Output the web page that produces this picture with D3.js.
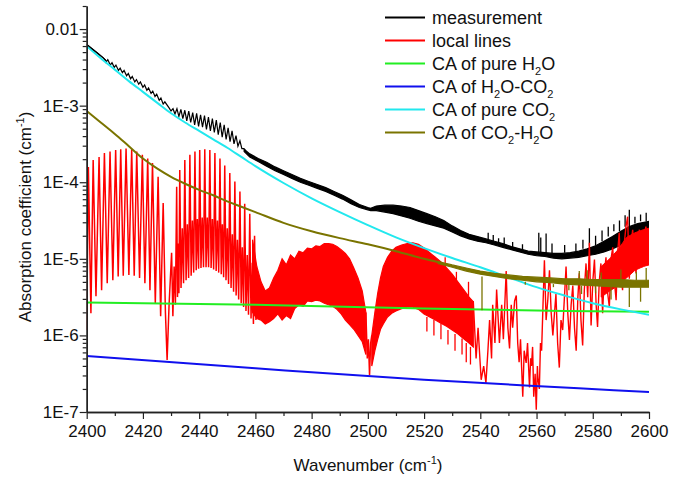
<!DOCTYPE html>
<html><head><meta charset="utf-8">
<script src="https://cdn.jsdelivr.net/npm/d3@7"></script>
<style>body{margin:0;background:#fff}svg{display:block;font-family:"Liberation Sans",Arial,sans-serif}</style>
</head><body><svg id="c" width="696" height="477"></svg>
<script>
// ---- data (values are log10 of absorption coefficient) ----
const xTicks = [2400,2420,2440,2460,2480,2500,2520,2540,2560,2580,2600];
const xMinor = [2410,2430,2450,2470,2490,2510,2530,2550,2570,2590];
const yTicks = [1e-7,1e-6,1e-5,1e-4,1e-3,1e-2];
const yTickLabels = ["1E-7","1E-6","1E-5","1E-4","1E-3","0.01"];

const cyanData = [[2400,-2.22],[2405,-2.38],[2410,-2.53],[2415,-2.68],[2420,-2.82],[2425,-2.96],[2430,-3.10],[2435,-3.22],[2440,-3.33],[2445,-3.44],[2450,-3.55],[2455,-3.67],[2460,-3.79],[2470,-4.01],[2480,-4.21],[2490,-4.39],[2500,-4.56],[2510,-4.72],[2520,-4.86],[2530,-4.99],[2540,-5.11],[2550,-5.24],[2560,-5.37],[2570,-5.48],[2580,-5.58],[2590,-5.66],[2600,-5.73]];
const greenData = [[2400,-5.57],[2460,-5.60],[2520,-5.65],[2570,-5.68],[2600,-5.69]];
const blueData = [[2400,-6.27],[2460,-6.43],[2520,-6.58],[2575,-6.69],[2600,-6.74]];
const oliveData = [[2400,-3.07],[2405,-3.22],[2410,-3.37],[2415,-3.53],[2420,-3.69],[2425,-3.82],[2430,-3.93],[2435,-4.02],[2440,-4.10],[2445,-4.17],[2450,-4.25],[2455,-4.32],[2460,-4.39],[2470,-4.53],[2480,-4.64],[2490,-4.73],[2500,-4.81],[2510,-4.90],[2520,-5.00],[2526,-5.05]];
// noisy part of the CO2-H2O curve: [wavenumber, upper, lower]
const oliveBand = [[2525,-5.035,-5.06],[2530,-5.08,-5.11],[2535,-5.12,-5.16],[2540,-5.16,-5.20],[2545,-5.19,-5.23],[2550,-5.21,-5.26],[2555,-5.23,-5.28],[2560,-5.24,-5.30],[2565,-5.25,-5.31],[2570,-5.26,-5.33],[2575,-5.26,-5.34],[2580,-5.27,-5.35],[2585,-5.27,-5.36],[2590,-5.27,-5.37],[2595,-5.28,-5.37],[2600,-5.28,-5.37]];
const oliveSpikes = [[2540.6,-5.67],[2556,-5.34],[2566,-5.37],[2571.5,-5.41],[2576,-5.46],[2581,-5.45],[2586.5,-5.53],[2593,-5.63],[2597,-5.56],[2575.2,-5.16],[2578,-5.15],[2583,-5.18],[2590,-5.14],[2595.5,-5.17],[2599,-5.12]];

// measurement: start, small-teeth comb, large comb, then noisy band
const blackStart = [[2400,-2.20],[2402,-2.26],[2404,-2.32],[2406,-2.38],[2406.8,-2.41]];
const blackTeethA = [[2407.5,-2.40,-2.43],[2409.0,-2.44,-2.47],[2410.4,-2.47,-2.50],[2411.9,-2.51,-2.54],[2413.3,-2.54,-2.57],[2414.8,-2.58,-2.61],[2416.2,-2.62,-2.65],[2417.7,-2.66,-2.69],[2419.1,-2.69,-2.72],[2420.6,-2.73,-2.76],[2422.0,-2.77,-2.80],[2423.5,-2.81,-2.84],[2424.9,-2.85,-2.88],[2426.4,-2.90,-2.93],[2427.8,-2.95,-2.98]];
const blackTeethB = [[2429.3,-3.03,-3.07],[2430.7,-3.04,-3.11],[2432.1,-3.04,-3.14],[2433.5,-3.05,-3.17],[2434.9,-3.06,-3.20],[2436.3,-3.07,-3.22],[2437.7,-3.09,-3.25],[2439.1,-3.10,-3.27],[2440.5,-3.12,-3.28],[2441.9,-3.13,-3.31],[2443.3,-3.15,-3.33],[2444.7,-3.17,-3.35],[2446.1,-3.19,-3.38],[2447.5,-3.22,-3.41],[2448.9,-3.25,-3.44],[2450.3,-3.29,-3.47],[2451.7,-3.33,-3.50],[2453.1,-3.39,-3.53],[2454.5,-3.46,-3.56],[2455.9,-3.56,-3.59]];
const blackBand = [[2456,-3.57,-3.60],[2458,-3.63,-3.67],[2461,-3.69,-3.73],[2464,-3.74,-3.79],[2467,-3.80,-3.85],[2470,-3.85,-3.90],[2473,-3.90,-3.95],[2476,-3.95,-4.00],[2479,-3.99,-4.04],[2482,-4.03,-4.08],[2485,-4.07,-4.12],[2488,-4.12,-4.17],[2491,-4.17,-4.22],[2494,-4.23,-4.28],[2497,-4.29,-4.33],[2500,-4.33,-4.36],[2501,-4.34,-4.37],[2503,-4.31,-4.37],[2506,-4.30,-4.39],[2509,-4.30,-4.41],[2512,-4.31,-4.44],[2515,-4.33,-4.47],[2518,-4.37,-4.51],[2521,-4.41,-4.54],[2524,-4.45,-4.57],[2527,-4.50,-4.60],[2530,-4.57,-4.65],[2533,-4.63,-4.70],[2536,-4.68,-4.74],[2539,-4.71,-4.77],[2542,-4.74,-4.79],[2545,-4.77,-4.82],[2548,-4.80,-4.85],[2551,-4.84,-4.88],[2554,-4.87,-4.91],[2557,-4.90,-4.94],[2560,-4.91,-4.96],[2563,-4.92,-4.97],[2566,-4.93,-4.99],[2569,-4.93,-5.00],[2572,-4.92,-4.99],[2575,-4.90,-4.98],[2578,-4.87,-4.96],[2581,-4.83,-4.94],[2584,-4.77,-4.91],[2587,-4.71,-4.87],[2590,-4.64,-4.82],[2593,-4.58,-4.76],[2596,-4.54,-4.69],[2600,-4.51,-4.62]];
const blackSpikes = [[2542.8,-4.66],[2544.6,-4.69],[2546.5,-4.73],[2548.5,-4.72],[2551.5,-4.78],[2555,-4.81],[2560.8,-4.66],[2561.5,-4.72],[2563.4,-4.67],[2565.5,-4.80],[2570,-4.82],[2574,-4.80],[2576.5,-4.75],[2578.8,-4.60],[2581,-4.70],[2583.3,-4.63],[2585.5,-4.58],[2587.5,-4.55],[2589.5,-4.50],[2591.5,-4.43],[2593,-4.36],[2595,-4.45],[2597,-4.42],[2599,-4.40]];

// local lines: comb A, dip, comb B
const redCombA = [[2400.0,-5.93],[2400.6,-3.80],[2401.5,-5.71],[2402.3,-3.71],[2403.3,-5.49],[2404.4,-3.67],[2405.3,-5.41],[2406.3,-3.62],[2407.3,-5.32],[2408.3,-3.60],[2409.3,-5.28],[2410.3,-3.58],[2411.2,-5.23],[2412.1,-3.57],[2413.0,-5.22],[2414.0,-3.56],[2415.0,-5.21],[2416.0,-3.57],[2416.9,-5.22],[2417.8,-3.60],[2418.8,-5.25],[2419.8,-3.64],[2420.7,-5.32],[2421.7,-3.69],[2422.5,-5.41],[2423.4,-3.75],[2424.4,-5.58],[2425.4,-3.93],[2426.3,-5.75],[2427.2,-4.27],[2428.0,-5.70],[2428.6,-6.32],[2429.3,-5.60]];
const redCombB = [[2430.2,-4.92],[2430.65,-5.75],[2431.1,-5.10],[2431.55,-5.60],[2432.0,-4.06],[2432.3,-5.50],[2432.55,-4.80],[2432.8,-5.45],[2433.1,-3.84],[2433.55,-5.38],[2434.0,-4.60],[2434.45,-5.32],[2434.9,-3.71],[2435.35,-5.28],[2435.8,-4.55],[2436.25,-5.25],[2436.7,-3.64],[2437.15,-5.22],[2437.6,-4.50],[2438.05,-5.18],[2438.5,-3.60],[2438.95,-5.15],[2439.35,-4.48],[2439.8,-5.13],[2440.2,-3.58],[2440.65,-5.12],[2441.1,-4.46],[2441.55,-5.11],[2442.0,-3.57],[2442.45,-5.11],[2442.9,-4.46],[2443.35,-5.11],[2443.8,-3.58],[2444.25,-5.12],[2444.7,-4.48],[2445.15,-5.14],[2445.6,-3.62],[2446.05,-5.16],[2446.5,-4.50],[2446.95,-5.18],[2447.4,-3.69],[2447.85,-5.20],[2448.25,-4.55],[2448.7,-5.24],[2449.1,-3.78],[2449.55,-5.28],[2450.0,-4.60],[2450.45,-5.33],[2450.9,-3.88],[2451.35,-5.38],[2451.8,-4.68],[2452.25,-5.43],[2452.7,-3.99],[2453.15,-5.48],[2453.6,-4.75],[2454.05,-5.53],[2454.5,-4.12],[2454.95,-5.58],[2455.35,-4.85],[2455.8,-5.63],[2456.2,-4.28],[2456.65,-5.68],[2457.1,-4.95],[2457.55,-5.73],[2458.0,-4.41],[2458.45,-5.78],[2458.9,-5.05],[2459.3,-5.85],[2459.7,-4.70],[2460.2,-5.80]];
// dense bands: [wavenumber, upper, lower]
const redBandC = [[2459,-4.75,-5.70],[2460.5,-5.10,-5.78],[2462,-5.30,-5.80],[2463.5,-5.42,-5.85],[2465,-5.38,-5.82],[2466.5,-5.25,-5.78],[2468,-5.15,-5.72],[2469.5,-5.00,-5.80],[2471,-5.08,-5.74],[2472.5,-4.95,-5.78],[2474,-5.00,-5.65],[2475.5,-4.90,-5.60],[2477,-4.92,-5.62],[2478.5,-4.86,-5.55],[2480,-4.87,-5.56],[2481.5,-4.83,-5.54],[2483,-4.84,-5.55],[2484.5,-4.80,-5.58],[2486,-4.80,-5.60],[2487.5,-4.81,-5.62],[2489,-4.84,-5.66],[2490.5,-4.88,-5.72],[2492,-4.93,-5.80],[2493.5,-5.00,-5.86],[2495,-5.12,-5.92],[2496.5,-5.25,-6.00],[2498,-5.42,-6.08],[2499.3,-5.70,-6.25]];
const redDip = [[2499.3,-5.70],[2499.8,-6.30],[2500.2,-6.05],[2500.6,-6.52],[2501.0,-6.10],[2501.4,-6.00]];
const redBandD = [[2501.4,-6.00,-6.40],[2502.5,-5.70,-6.20],[2503.5,-5.45,-6.05],[2504.5,-5.25,-5.92],[2505.5,-5.10,-5.85],[2507,-4.98,-5.76],[2508.5,-4.90,-5.71],[2510,-4.85,-5.68],[2512,-4.82,-5.65],[2514,-4.80,-5.63],[2516,-4.79,-5.63],[2518,-4.81,-5.66],[2520,-4.86,-5.72],[2522,-4.92,-5.76],[2524,-4.98,-5.80],[2526,-5.04,-5.84],[2528,-5.12,-5.88],[2530,-5.20,-5.93],[2532,-5.30,-5.98],[2534,-5.40,-6.04],[2536,-5.50,-6.10],[2537.5,-5.56,-6.15]];
const redBandDDown = [[2521,-5.95],[2523.5,-6.00],[2526,-6.05],[2528.5,-6.12],[2531,-6.20],[2533.5,-6.25],[2535,-6.35],[2536.5,-6.38]];
const redBandDUp = [[2527.5,-4.98],[2531.5,-5.17],[2535.8,-5.30]];
const redTail = [[2537.5,-5.55],[2538.5,-6.30],[2539.2,-5.90],[2540.3,-6.58],[2541.2,-6.40],[2542.0,-6.62],[2542.7,-6.20],[2543.3,-5.80],[2544.0,-6.30],[2544.4,-5.60],[2545.2,-6.10],[2545.8,-5.40],[2546.8,-6.10],[2547.6,-5.60],[2548.2,-6.05],[2549.2,-5.16],[2549.8,-5.90],[2550.4,-6.17],[2551.0,-5.60],[2551.5,-5.90],[2552.2,-5.55],[2552.8,-5.48],[2553.3,-6.10],[2553.8,-6.35],[2554.3,-6.05],[2555.1,-6.80],[2555.6,-6.20],[2556.3,-6.36],[2556.8,-6.10],[2557.5,-6.68],[2557.9,-6.30],[2558.2,-6.40],[2558.6,-6.15],[2559.0,-6.80],[2559.5,-6.50],[2559.9,-6.97],[2560.3,-6.40],[2560.5,-6.55],[2561.0,-6.70],[2561.4,-6.10],[2561.8,-6.20],[2562.3,-5.60],[2562.8,-5.02],[2563.4,-5.80],[2564.0,-5.54],[2564.6,-5.15],[2565.2,-5.70],[2565.8,-6.00],[2566.4,-5.70],[2566.9,-5.46],[2567.5,-6.10],[2568.1,-6.42],[2568.7,-5.80],[2569.3,-5.93],[2570.5,-5.10],[2571.1,-5.70],[2571.7,-6.06],[2572.3,-5.60],[2572.9,-5.35],[2573.5,-5.90],[2574.1,-6.20],[2574.7,-5.50],[2575.2,-5.19],[2575.8,-5.80],[2576.4,-6.13],[2577.0,-5.40],[2577.6,-5.06],[2578.2,-5.50],[2578.8,-4.79],[2579.4,-5.87],[2580.0,-5.30],[2580.6,-5.01],[2581.2,-5.60],[2581.7,-5.89],[2582.3,-5.30],[2582.9,-5.06],[2583.5,-5.71],[2584.1,-5.20],[2584.7,-4.98],[2585.3,-5.45],[2585.9,-5.63],[2586.5,-5.00],[2587.1,-4.85],[2587.7,-5.30],[2588.3,-5.54],[2588.9,-4.90],[2589.4,-4.66],[2590.0,-5.20],[2590.6,-5.41],[2591.2,-4.80],[2591.8,-4.58],[2592.4,-4.45],[2593.0,-5.26],[2593.6,-4.80],[2594.2,-4.62],[2594.8,-5.00],[2595.4,-5.19],[2596.0,-4.75],[2596.6,-4.62],[2597.2,-4.95],[2597.7,-5.11],[2598.3,-4.70],[2598.9,-4.58],[2599.4,-4.90],[2599.8,-5.06]];
const redBandE = [[2583,-5.10,-5.50],[2586,-5.00,-5.42],[2589,-4.88,-5.35],[2592,-4.72,-5.25],[2595,-4.66,-5.15],[2598,-4.62,-5.10],[2600,-4.60,-5.08]];

const legendItems = [
  {label:"measurement", color:"#000000"},
  {label:"local lines", color:"#ff0000"},
  {label:["CA of pure H","2","O"], color:"#22ee22"},
  {label:["CA of H","2","O-CO","2",""], color:"#1010ee"},
  {label:["CA of pure CO","2",""], color:"#22e8ee"},
  {label:["CA of CO","2","-H","2","O"], color:"#7a7400"}
];

// ---- drawing ----
const svg = d3.select("#c");
svg.append("rect").attr("width",696).attr("height",477).attr("fill","#fff");
const x = d3.scaleLinear().domain([2400,2600]).range([86.7,649]);
const y = d3.scaleLog().domain([1e-7,0.02]).range([412,6]);
const P = v => Math.pow(10, v);

svg.append("defs").append("clipPath").attr("id","clip").append("rect")
  .attr("x",86.7).attr("y",6).attr("width",649-86.7).attr("height",406);
const g = svg.append("g").attr("clip-path","url(#clip)");

const line = d3.line().x(d=>x(d[0])).y(d=>y(P(d[1])));
const area = d3.area().x(d=>x(d[0])).y0(d=>y(P(d[2]))).y1(d=>y(P(d[1])));
function bandAt(band, wn){ const i = d3.bisector(d=>d[0]).left(band, wn); return band[Math.max(0,Math.min(i, band.length-1))]; }
function spikes(sel, band, list, color, w, useLower){
  list.forEach(s => {
    const b = bandAt(band, s[0]);
    const base = (useLower === undefined) ? (s[1] > b[1] ? b[1] : b[2]) : (useLower ? b[2] : b[1]);
    sel.append("line").attr("x1",x(s[0])).attr("x2",x(s[0])).attr("y1",y(P(base))).attr("y2",y(P(s[1])))
      .attr("stroke",color).attr("stroke-width",w);
  });
}

// measurement
const blackPts = [...blackStart];
blackTeethA.forEach(t => { blackPts.push([t[0]-0.6,t[2]],[t[0],t[1]]); });
blackTeethB.forEach(t => { blackPts.push([t[0],t[1]],[t[0]+0.69,t[2]]); });
g.append("path").attr("d",line(blackPts)).attr("fill","none").attr("stroke","#000").attr("stroke-width",1.2);
g.append("path").attr("d",area(blackBand)).attr("fill","#000").attr("stroke","#000").attr("stroke-width",1.2);
spikes(g, blackBand, blackSpikes, "#000", 1.3);

// local lines
const red = "#ff0000";
g.append("path").attr("d",line(redCombA.concat(redCombB))).attr("fill","none").attr("stroke",red).attr("stroke-width",1.5);
g.append("path").attr("d",area(redBandC)).attr("fill",red).attr("stroke",red).attr("stroke-width",1.2);
g.append("path").attr("d",line(redDip)).attr("fill","none").attr("stroke",red).attr("stroke-width",1.5);
g.append("path").attr("d",area(redBandD)).attr("fill",red).attr("stroke",red).attr("stroke-width",1.2);
spikes(g, redBandD, redBandDDown, red, 1.3, true);
spikes(g, redBandD, redBandDUp, red, 1.3, false);
g.append("path").attr("d",area(redBandE)).attr("fill",red).attr("stroke",red).attr("stroke-width",1);
g.append("path").attr("d",line(redTail)).attr("fill","none").attr("stroke",red).attr("stroke-width",1.4);

// smooth CA curves
const smooth = d3.line().x(d=>x(d[0])).y(d=>y(P(d[1]))).curve(d3.curveMonotoneX);
g.append("path").attr("d",smooth(greenData)).attr("fill","none").attr("stroke",legendItems[2].color).attr("stroke-width",2);
g.append("path").attr("d",smooth(blueData)).attr("fill","none").attr("stroke",legendItems[3].color).attr("stroke-width",2);
g.append("path").attr("d",smooth(cyanData)).attr("fill","none").attr("stroke",legendItems[4].color).attr("stroke-width",2);
const olive = legendItems[5].color;
g.append("path").attr("d",smooth(oliveData)).attr("fill","none").attr("stroke",olive).attr("stroke-width",2);
g.append("path").attr("d",area(oliveBand)).attr("fill",olive).attr("stroke",olive).attr("stroke-width",1.2);
spikes(g, oliveBand, oliveSpikes, olive, 1.3);
// start of the measurement line sits just above the pure-CO2 curve
g.append("path").attr("d",line(blackStart)).attr("fill","none").attr("stroke","#000").attr("stroke-width",1.2);

// axes
const fs = 17;
svg.append("g").attr("transform","translate(0,412)")
  .call(d3.axisBottom(x).tickValues(xTicks).tickFormat(d3.format("d")).tickSize(7).tickSizeOuter(0).tickPadding(6));
svg.append("g").attr("transform","translate(0,412)")
  .call(d3.axisBottom(x).tickValues(xMinor).tickFormat("").tickSize(4).tickSizeOuter(0));
const yMinor = [];
for (let e=-7; e<=-2; e++) for (let m=2; m<=9; m++) { const v = m*Math.pow(10,e); if (v<=0.02) yMinor.push(v); }
svg.append("g").attr("transform","translate(86.7,0)")
  .call(d3.axisLeft(y).tickValues(yMinor).tickFormat("").tickSize(4).tickSizeOuter(0));
svg.append("g").attr("transform","translate(86.7,0)")
  .call(d3.axisLeft(y).tickValues(yTicks).tickFormat((d,i)=>yTickLabels[i]).tickSize(7).tickSizeOuter(0).tickPadding(1));
svg.selectAll(".domain").attr("stroke","#222").attr("stroke-width",1.4);
svg.selectAll(".tick line").attr("stroke","#222").attr("stroke-width",1.2);
svg.selectAll(".tick text").attr("font-size",fs).attr("font-family","'Liberation Sans',Arial,sans-serif").attr("fill","#111");

// axis titles
const xt = svg.append("text").attr("x",368).attr("y",471).attr("text-anchor","middle").attr("font-size",fs).attr("fill","#111");
xt.append("tspan").text("Wavenumber (cm");
xt.append("tspan").attr("font-size",11).attr("dy",-7).text("-1");
xt.append("tspan").attr("dy",7).text(")");
const yt = svg.append("text").attr("transform","translate(31,217) rotate(-90)").attr("text-anchor","middle").attr("font-size",fs).attr("fill","#111");
yt.append("tspan").text("Absorption coefficient (cm");
yt.append("tspan").attr("font-size",11).attr("dy",-7).text("-1");
yt.append("tspan").attr("dy",7).text(")");

// legend
const lg = svg.append("g");
legendItems.forEach((it,i) => {
  const cy = 17.5 + i*23;
  lg.append("line").attr("x1",385).attr("x2",425).attr("y1",cy).attr("y2",cy).attr("stroke",it.color).attr("stroke-width",2);
  const t = lg.append("text").attr("x",432).attr("y",cy+6.3).attr("font-size",18).attr("fill","#111");
  if (typeof it.label === "string") t.text(it.label);
  else it.label.forEach((s,k) => {
    if (k%2===1) t.append("tspan").attr("font-size",11).attr("dy",5).text(s);
    else { const ts = t.append("tspan").text(s); if (k>0) ts.attr("dy",-5); }
  });
});
</script></body></html>
